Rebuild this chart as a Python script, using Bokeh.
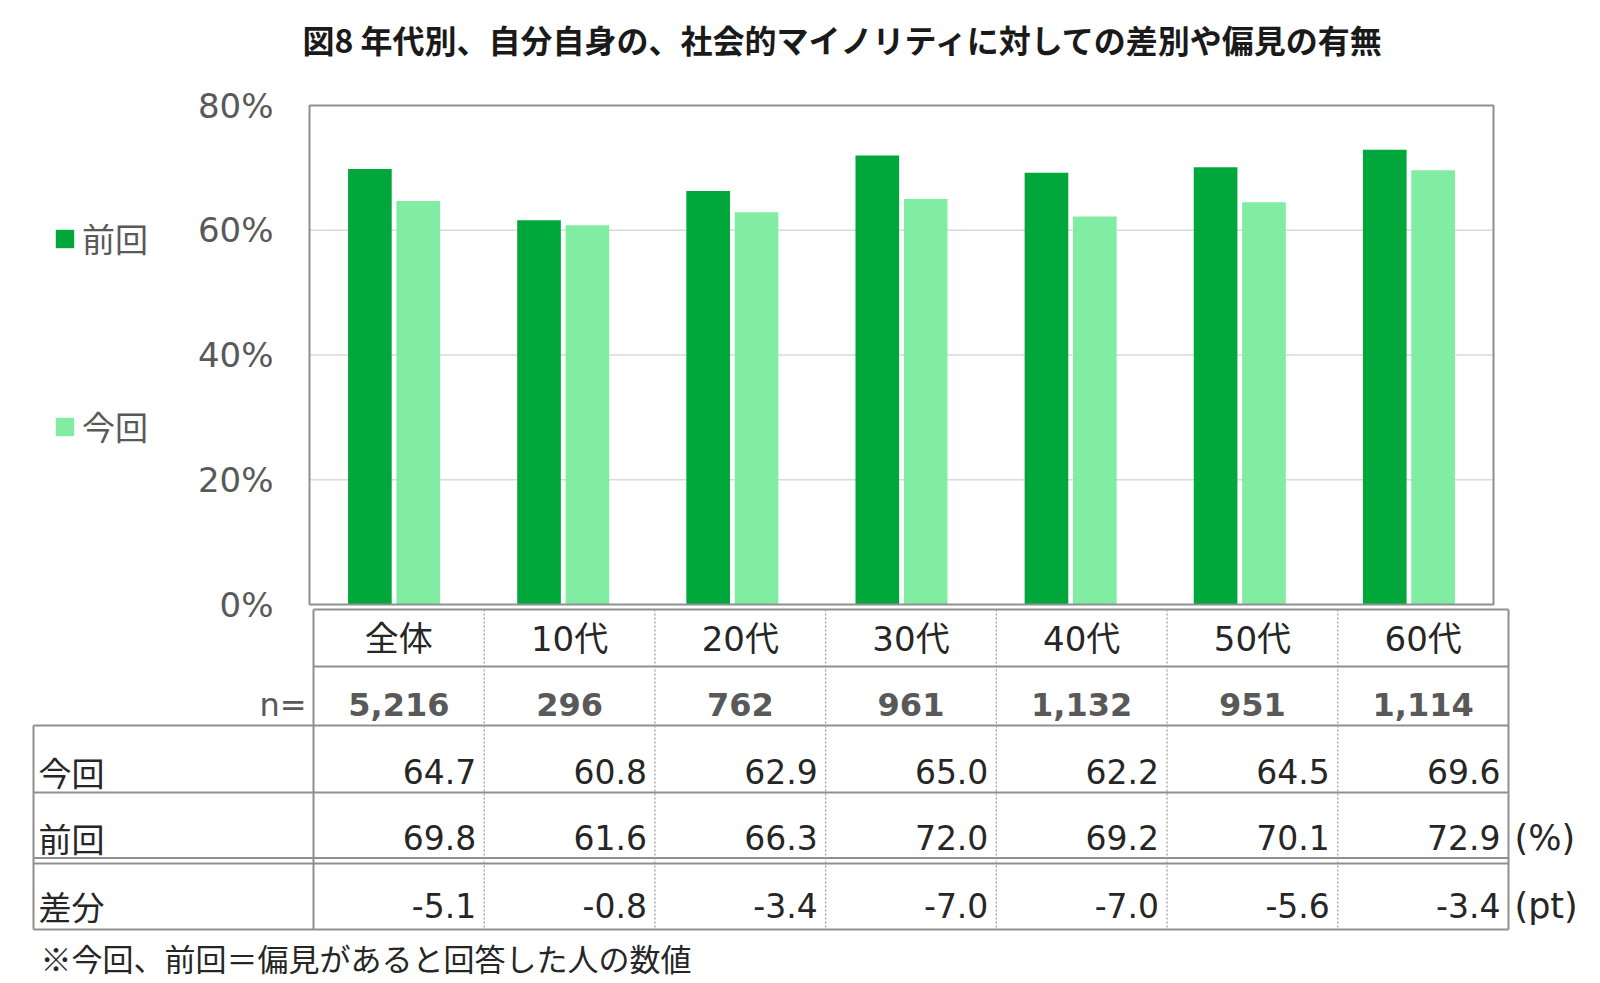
from bokeh.plotting import figure
from bokeh.models import Range1d, Label, Legend, LegendItem, ColumnDataSource
from bokeh.transform import dodge
from bokeh.core.properties import value
from bokeh.embed import file_html
from bokeh.resources import INLINE

# ---------------- data ----------------
categories = ["全体", "10代", "20代", "30代", "40代", "50代", "60代"]
n_values = ["5,216", "296", "762", "961", "1,132", "951", "1,114"]
current = [64.7, 60.8, 62.9, 65.0, 62.2, 64.5, 69.6]     # 今回
previous = [69.8, 61.6, 66.3, 72.0, 69.2, 70.1, 72.9]    # 前回
diff = [-5.1, -0.8, -3.4, -7.0, -7.0, -5.6, -3.4]        # 差分
y_ticks = [0, 20, 40, 60, 80]
y_max = 80
title_text = "図8 年代別、自分自身の、社会的マイノリティに対しての差別や偏見の有無"
footnote = "※今回、前回＝偏見があると回答した人の数値"

DARK = "#00A83C"
LIGHT = "#80EDA3"
GRAY_TXT = "#595959"
TXT = "#262626"
LINE = "#8f8f8f"
CJK = "Noto Sans CJK JP"
MIX = "DejaVu Sans, Noto Sans CJK JP"

W, H = 1600, 983
# plot-area layout (pixels from top-left of the page)
PL, PR, PT, PB = 309, 1493, 105, 604
ncat = len(categories)
cat_w = (PR - PL) / ncat
# percent range such that 0 -> PB and y_max -> PT
pct_span = y_max * H / (PB - PT)
pct_end = PB * pct_span / H
pct_start = pct_end - pct_span
# category-index range such that index i is centred in its slot
cat_start = -PL / cat_w - 0.5
cat_end = (W - PL) / cat_w - 0.5

p = figure(width=W, height=H, x_range=Range1d(0, W), y_range=Range1d(H, 0),
           output_backend="svg", toolbar_location=None,
           x_axis_location=None, y_axis_location=None, min_border=0)
p.extra_x_ranges = {"cat": Range1d(cat_start, cat_end)}
p.extra_y_ranges = {"pct": Range1d(pct_start, pct_end)}
p.outline_line_color = None
p.grid.visible = False
p.background_fill_color = "white"
p.border_fill_color = "white"

# gridlines and y tick labels (percent scale)
grid_t = [t for t in y_ticks if 0 < t < y_max]
p.segment(x0=[PL] * len(grid_t), x1=[PR] * len(grid_t), y0=grid_t, y1=grid_t,
          y_range_name="pct", line_color="#d9d9d9", line_width=1.5)
p.text(x=[PL - 36] * len(y_ticks), y=y_ticks, text=[f"{t}%" for t in y_ticks],
       y_range_name="pct", text_align="right", text_baseline="middle",
       text_font=value("DejaVu Sans"), text_font_size="34px", text_color=GRAY_TXT)

# bars
src = ColumnDataSource(dict(idx=list(range(ncat)), cat=categories, prev=previous, cur=current))
r_prev = p.vbar(x=dodge("idx", -0.143), top="prev", bottom=0, width=0.258, source=src,
                x_range_name="cat", y_range_name="pct", fill_color=DARK, line_color=None)
r_cur = p.vbar(x=dodge("idx", 0.143), top="cur", bottom=0, width=0.258, source=src,
               x_range_name="cat", y_range_name="pct", fill_color=LIGHT, line_color=None)

# plot frame
p.quad(left=[PL], right=[PR], top=[y_max], bottom=[0], y_range_name="pct",
       fill_color=None, line_color=LINE, line_width=2)

legend = Legend(items=[LegendItem(label="前回", renderers=[r_prev]),
                       LegendItem(label="今回", renderers=[r_cur])],
                location=(53, H - 450), orientation="vertical",
                padding=0, margin=0, spacing=140,
                glyph_width=23, glyph_height=23, label_height=34,
                label_standoff=6, label_text_font=CJK,
                label_text_font_size="33px", label_text_color=GRAY_TXT,
                border_line_color=None, background_fill_alpha=0)
p.add_layout(legend)

p.add_layout(Label(x=843, y=38, text=title_text, text_align="center", text_baseline="middle",
                   text_font=CJK, text_font_style="bold", text_font_size="32px",
                   text_color="#1a1a1a"))

# ---------------- table ----------------
T_LEFT, T_RIGHT = 313, 1508
COL_W = (T_RIGHT - T_LEFT) / ncat
L_LEFT = 33
y_head_top, y_head_bot, y_n_bot = 609, 666, 725
y_cur_bot, y_prev_bot1, y_prev_bot2, y_diff_bot = 792, 857.5, 863, 929

h_x0 = [T_LEFT, T_LEFT, L_LEFT, L_LEFT, L_LEFT, L_LEFT, L_LEFT]
h_y = [y_head_top, y_head_bot, y_n_bot, y_cur_bot, y_prev_bot1, y_prev_bot2, y_diff_bot]
p.segment(x0=h_x0, y0=h_y, x1=[T_RIGHT] * len(h_y), y1=h_y, line_color=LINE, line_width=2)
p.segment(x0=[L_LEFT, T_LEFT, T_RIGHT], y0=[y_n_bot, y_head_top, y_head_top],
          x1=[L_LEFT, T_LEFT, T_RIGHT], y1=[y_diff_bot] * 3, line_color=LINE, line_width=2)
dx = [T_LEFT + COL_W * i for i in range(1, ncat)]
p.segment(x0=dx, y0=[y_head_top] * len(dx), x1=dx, y1=[y_diff_bot] * len(dx),
          line_color="#9a9a9a", line_width=1.2, line_dash="2 2")

centers = [T_LEFT + COL_W * (i + 0.5) for i in range(ncat)]
rights = [T_LEFT + COL_W * (i + 1) - 8 for i in range(ncat)]

p.text(x=centers, y=[638] * ncat, text=categories, text_align="center",
       text_baseline="middle", text_font=value(MIX), text_font_size="34px", text_color=TXT)

p.text(x=centers, y=[704] * ncat, text=n_values, text_align="center",
       text_baseline="middle", text_font=value("DejaVu Sans"), text_font_style="bold",
       text_font_size="32px", text_color=GRAY_TXT)
p.text(x=[306], y=[704], text=["n="], text_align="right", text_baseline="middle",
       text_font=value("DejaVu Sans"), text_font_size="32px", text_color=GRAY_TXT)

rows = [("今回", current, 771, ""),
        ("前回", previous, 837, "(%)"),
        ("差分", diff, 905, "(pt)")]
for lab, vals, yc, unit in rows:
    p.text(x=[38], y=[yc], text=[lab], text_align="left", text_baseline="middle",
           text_font=value(CJK), text_font_size="33px", text_color=TXT)
    p.text(x=rights, y=[yc] * ncat, text=[f"{v:.1f}" for v in vals], text_align="right",
           text_baseline="middle", text_font=value("DejaVu Sans"),
           text_font_size="33px", text_color=TXT)
    if unit:
        p.text(x=[1514], y=[yc], text=[unit], text_align="left", text_baseline="middle",
               text_font=value("DejaVu Sans"), text_font_size="35px", text_color=TXT)

p.text(x=[40], y=[957], text=[footnote], text_align="left", text_baseline="middle",
       text_font=value(CJK), text_font_size="31px", text_color=TXT)

open("out.html", "w").write(file_html(p, INLINE))
